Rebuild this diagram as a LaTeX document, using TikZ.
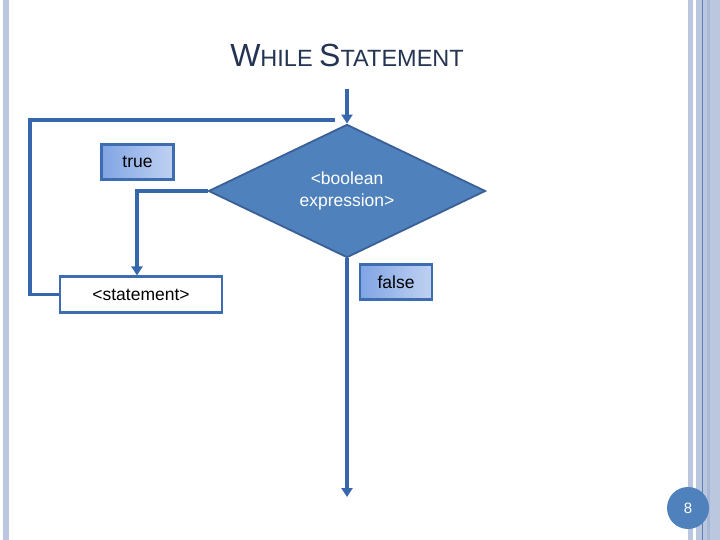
\documentclass[tikz,border=0pt]{standalone}
\usepackage{fontspec}
\setmainfont{Liberation Sans}
\usetikzlibrary{shapes.geometric,arrows.meta}
\definecolor{stripe}{RGB}{186,199,222}
\definecolor{stripedark}{RGB}{95,128,180}
\definecolor{titlec}{RGB}{36,52,82}
\definecolor{linec}{RGB}{54,102,172}
\definecolor{diafill}{RGB}{79,129,189}
\definecolor{diaborder}{RGB}{58,96,150}
\definecolor{lblborder}{RGB}{62,108,176}
\definecolor{lblleft}{RGB}{128,164,228}
\definecolor{lblright}{RGB}{192,210,242}
\tikzset{
  conn/.style={draw=linec, line width=3.8pt},
  arrowc/.style={conn, -{Triangle[width=11pt,length=9pt]}},
  lblbox/.style={draw=lblborder, line width=2.2pt, left color=lblleft, right color=lblright,
    minimum width=72pt, minimum height=35pt, inner sep=0pt, font=\fontsize{17.5}{20}\selectfont, text=black},
  stmtbox/.style={draw=lblborder, line width=2.2pt, fill=white,
    minimum width=162pt, minimum height=36pt, inner sep=0pt, font=\fontsize{17.5}{20}\selectfont, text=black},
}
\begin{document}
\begin{tikzpicture}[x=1pt,y=-1pt]
\useasboundingbox (0,0) rectangle (720,540);
\fill[white] (0,0) rectangle (720,540);
% page decorations
\fill[stripe] (3,0) rectangle (8.5,540);
\fill[stripe] (688,0) rectangle (692.5,540);
\fill[stripe] (696,0) rectangle (720,540);
\fill[stripe!80!stripedark] (707,0) rectangle (710,540);
\fill[stripedark] (701.5,0) rectangle (702.7,540);
% title
\node[text=titlec, inner sep=0pt] (title) at (347,55)
  {\fontsize{32}{34}\selectfont W\fontsize{23.5}{26}\selectfont HILE \fontsize{32}{34}\selectfont S\fontsize{23.5}{26}\selectfont TATEMENT};
% decision
\node[diamond, draw=diaborder, line width=1.8pt, fill=diafill, minimum width=277pt, minimum height=131pt,
  inner sep=0pt, text=white, align=center, font=\fontsize{17.5}{22}\selectfont] (dec) at (347,191)
  {\textless boolean\\expression\textgreater};
% statement
\node[stmtbox] (stmt) at (141,294.5) {\textless statement\textgreater};
% labels
\node[lblbox] (tl) at (137.5,162) {true};
\node[lblbox] (fl) at (396,282) {false};
% coordinates
\coordinate (entry) at (347,89);
\coordinate (loopend) at (335,120);
\coordinate (loopcorner) at (30,120);
\coordinate (exit) at (347,497);
% connectors
\draw[arrowc] (entry) -- (dec.north);
\draw[conn] (stmt.west) -| (loopcorner) -- (loopend);
\draw[arrowc] (dec.west) -| ([xshift=-4pt]stmt.north);
\draw[arrowc] (dec.south) -- (exit);
% page number
\node[circle, fill=diafill, minimum size=42pt, inner sep=0pt, text=white, font=\fontsize{15}{17}\selectfont] (pg) at (688,508) {8};
\end{tikzpicture}
\end{document}
